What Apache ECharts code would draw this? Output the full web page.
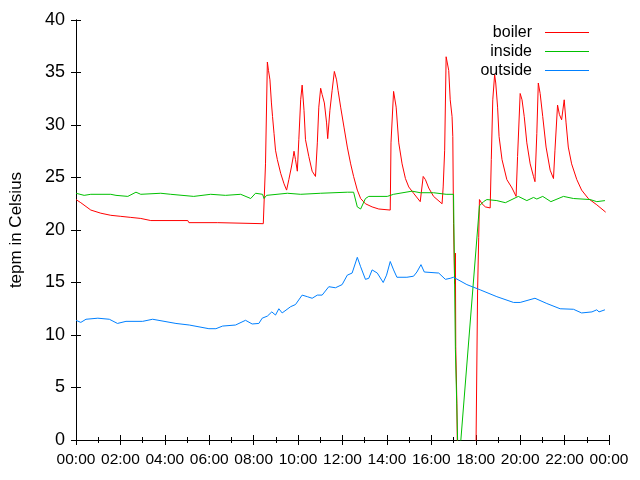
<!DOCTYPE html>
<html>
<head>
<meta charset="utf-8">
<script src="https://cdn.jsdelivr.net/npm/echarts@6/dist/echarts.min.js"></script>
<style>html,body{margin:0;padding:0;background:#fff}#c{width:640px;height:480px}</style>
</head>
<body>
<div id="c"></div>
<script>
// times in minutes after midnight
var boilerTimes = [0,13,40,67,94,121,148,175,202,302,305,383,386,506,508,512,517,520,524,528,531,535,539,544,553,562,569,575,582,587,589,593,598,602,607,611,616,620,629,638,647,652,656,661,665,671,677,680,686,692,698,704,708,715,724,733,742,750,760,769,782,800,818,849,851,858,865,872,881,890,899,912,930,938,944,953,966,989,992,996,1000,1007,1011,1016,1018,1020,1023,1025,1026,1029,1031,1080,1085,1088,1090,1097,1106,1119,1122,1126,1131,1134,1139,1143,1151,1164,1178,1189,1193,1200,1205,1211,1218,1227,1236,1240,1245,1249,1254,1261,1270,1281,1290,1294,1301,1306,1312,1319,1324,1330,1339,1353,1366,1384,1407,1431];
var boilerValues = [22.9,22.6,21.9,21.6,21.4,21.3,21.2,21.1,20.9,20.9,20.7,20.7,20.6,20.6,20.6,26.3,36.0,35.2,34.3,32.1,30.8,29.2,27.6,26.7,25.4,24.4,23.8,24.8,26.0,27.0,27.5,26.7,25.6,28.6,32.4,33.8,31.4,28.6,27.0,25.6,25.1,28.3,31.7,33.5,32.9,32.1,30.2,28.7,31.4,33.3,35.1,34.3,33.3,31.7,29.8,27.9,26.3,25.1,23.8,23.0,22.5,22.2,22.0,21.9,28.3,33.2,31.7,28.3,26.3,24.9,24.1,23.5,22.7,25.1,24.8,24.0,23.2,22.5,24.1,27.6,36.5,35.2,32.4,30.8,28.9,20.6,14.9,17.8,8.9,3.5,-3,-3,14.3,19.3,22.9,22.5,22.2,22.1,26.7,32.4,34.8,34.0,31.7,28.9,26.7,24.8,24.0,23.2,27.0,33.0,32.4,30.8,28.3,26.3,25.1,24.6,29.2,34.0,33.0,30.8,27.9,25.7,24.9,27.6,31.9,31.0,30.5,32.4,30.2,27.9,26.3,24.8,23.8,23.0,22.4,21.7];

var insideTimes = [0,22,40,94,108,140,162,175,229,256,318,364,404,445,472,485,504,508,515,571,607,661,733,750,760,769,782,791,841,858,908,930,966,1000,1020,1025,1031,1033,1090,1101,1110,1137,1160,1195,1218,1236,1245,1261,1283,1317,1344,1389,1407,1429];
var insideValues = [23.5,23.3,23.4,23.4,23.3,23.2,23.6,23.4,23.5,23.4,23.2,23.4,23.3,23.4,23.0,23.5,23.4,23.0,23.3,23.5,23.4,23.5,23.6,23.6,22.2,22.0,23.0,23.2,23.2,23.4,23.7,23.55,23.55,23.4,23.4,8.6,0,-3,22.3,22.7,22.9,22.8,22.6,23.2,22.8,23.1,22.95,23.2,22.7,23.2,23.0,22.9,22.7,22.8];

var outsideTimes = [0,13,27,59,90,112,135,180,207,270,306,359,378,396,431,458,476,494,503,517,529,539,548,557,580,593,611,625,638,652,665,683,701,719,733,746,760,769,782,791,800,814,830,839,849,858,867,894,912,921,932,941,980,998,1011,1020,1056,1092,1137,1182,1200,1240,1272,1308,1344,1366,1394,1407,1413,1429];
var outsideValues = [11.4,11.2,11.5,11.6,11.5,11.1,11.3,11.3,11.5,11.1,10.95,10.6,10.6,10.85,10.95,11.4,11.05,11.1,11.6,11.8,12.2,11.9,12.5,12.1,12.7,12.9,13.8,13.65,13.5,13.8,13.8,14.6,14.5,14.8,15.7,15.9,17.4,16.5,15.3,15.4,16.2,15.9,15.0,15.7,17.0,16.2,15.5,15.5,15.6,16.0,16.7,16.0,15.9,15.3,15.4,15.5,14.8,14.3,13.65,13.1,13.1,13.5,13.0,12.5,12.45,12.1,12.2,12.4,12.2,12.4];

var seriesNames = ['boiler', 'inside', 'outside'];
var yTicks = {min: 0, max: 40, step: 5};
var xTicks = {min: 0, max: 1440, step: 120};

function zip(t, v) { return t.map(function (x, i) { return [x, v[i]]; }); }
function pad(n) { return (n < 10 ? '0' : '') + n; }
function fmt(v) { var m = Math.round(v); return pad(Math.floor(m / 60) % 24) + ':' + pad(m % 60); }

var FONT = 'Liberation Sans';
var black = '#000';
var chart = echarts.init(document.getElementById('c'), null, {renderer: 'canvas'});
var axisLine = {show: true, lineStyle: {color: black, width: 1}};
chart.setOption({
  animation: false,
  backgroundColor: '#fff',
  textStyle: {fontFamily: FONT},
  grid: {left: 75, right: 31, top: 20, bottom: 40, containLabel: false},
  legend: {
    orient: 'vertical', right: 51, top: 23, align: 'right', padding: 0,
    itemWidth: 44, itemHeight: 1, itemGap: 0, icon: 'rect',
    textStyle: {fontFamily: FONT, fontSize: 16, color: black, lineHeight: 19, padding: [0, 8, 0, 0]},
    data: seriesNames
  },
  xAxis: [{
    type: 'value', min: xTicks.min, max: xTicks.max, interval: xTicks.step,
    axisLine: axisLine, splitLine: {show: false},
    axisTick: {show: true, inside: true, length: 5, lineStyle: {color: black}},
    minorTick: {show: true, splitNumber: 2, length: 3, lineStyle: {color: black}},
    axisLabel: {formatter: fmt, color: black, fontFamily: FONT, fontSize: 15.5, margin: 12}
  }, {
    type: 'value', position: 'top', min: xTicks.min, max: xTicks.max, interval: xTicks.step,
    axisLine: axisLine, splitLine: {show: false},
    axisTick: {show: true, inside: true, length: 5, lineStyle: {color: black}},
    minorTick: {show: true, splitNumber: 2, length: 3, lineStyle: {color: black}},
    axisLabel: {show: false}
  }],
  yAxis: [{
    type: 'value', min: yTicks.min, max: yTicks.max, interval: yTicks.step,
    name: 'tepm in Celsius', nameLocation: 'middle', nameGap: 51, nameRotate: 90,
    nameTextStyle: {fontFamily: FONT, fontSize: 17, color: black},
    axisLine: axisLine, splitLine: {show: false},
    axisTick: {show: true, inside: true, length: 5, lineStyle: {color: black}},
    axisLabel: {color: black, fontFamily: FONT, fontSize: 18, margin: 11}
  }, {
    type: 'value', position: 'right', min: yTicks.min, max: yTicks.max, interval: yTicks.step,
    axisLine: axisLine, splitLine: {show: false},
    axisTick: {show: true, inside: true, length: 5, lineStyle: {color: black}},
    axisLabel: {show: false}
  }],
  series: [
    {name: seriesNames[0], type: 'line', data: zip(boilerTimes, boilerValues), showSymbol: false, symbol: 'none', clip: true,
     itemStyle: {color: '#ff0000'}, lineStyle: {color: '#ff0000', width: 1}},
    {name: seriesNames[1], type: 'line', data: zip(insideTimes, insideValues), showSymbol: false, symbol: 'none', clip: true,
     itemStyle: {color: '#00c000'}, lineStyle: {color: '#00c000', width: 1}},
    {name: seriesNames[2], type: 'line', data: zip(outsideTimes, outsideValues), showSymbol: false, symbol: 'none', clip: true,
     itemStyle: {color: '#0080ff'}, lineStyle: {color: '#0080ff', width: 1}}
  ]
});
</script>
</body>
</html>
